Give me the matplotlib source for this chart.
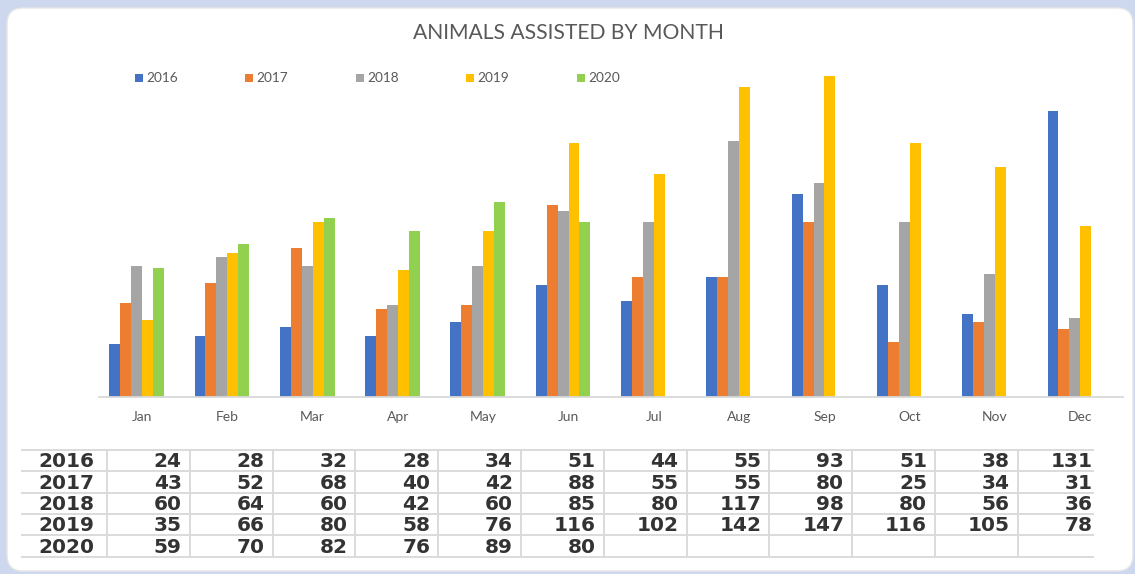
import matplotlib
matplotlib.use("Agg")
import matplotlib.pyplot as plt
from matplotlib.patches import FancyBboxPatch, Rectangle
import numpy as np

# ---- data ----
months = ["Jan", "Feb", "Mar", "Apr", "May", "Jun", "Jul", "Aug", "Sep", "Oct", "Nov", "Dec"]
years = ["2016", "2017", "2018", "2019", "2020"]
v2016 = [24, 28, 32, 28, 34, 51, 44, 55, 93, 51, 38, 131]
v2017 = [43, 52, 68, 40, 42, 88, 55, 55, 80, 25, 34, 31]
v2018 = [60, 64, 60, 42, 60, 85, 80, 117, 98, 80, 56, 36]
v2019 = [35, 66, 80, 58, 76, 116, 102, 142, 147, 116, 105, 78]
v2020 = [59, 70, 82, 76, 89, 80]
series = [v2016, v2017, v2018, v2019, v2020]
colors = ["#4472C4", "#ED7D31", "#A5A5A5", "#FFC000", "#92D050"]

W, H = 1135, 574
fig = plt.figure(figsize=(W / 100, H / 100), dpi=100, facecolor="#CDD8EE")

# background overlay in pixel coordinates
bg = fig.add_axes([0, 0, 1, 1], zorder=0)
bg.set_xlim(0, W)
bg.set_ylim(H, 0)
bg.axis("off")
bg.patch.set_alpha(0)
panel = FancyBboxPatch((7, 8), 1126, 563, boxstyle="round,pad=0,rounding_size=16",
                       facecolor="white", edgecolor="#E6E6E6", linewidth=1.0)
bg.add_patch(panel)

# ---- bar chart ----
cat_px = 85.3
px_per_unit = 2.183
ymax = 160
ax_left, ax_right, base_y = 99.4, 99.4 + 12 * cat_px, 396.7
ax = fig.add_axes([ax_left / W, (H - base_y) / H, (ax_right - ax_left) / W,
                   ymax * px_per_unit / H], zorder=2)
ax.patch.set_alpha(0)
w = 10.93 / cat_px
x = np.arange(len(months))
for j, (vals, c) in enumerate(zip(series, colors)):
    xs = x[:len(vals)] + (j - 2.5) * w
    ax.bar(xs, vals, width=w, color=c, linewidth=0)
ax.set_xlim(-0.5, len(months) - 0.5)
ax.set_ylim(0, ymax)
ax.set_yticks([])
ax.set_xticks(x)
ax.set_xticklabels(months, fontsize=10, color="#595959", family="Lato")
ax.tick_params(axis="x", length=0, pad=10.5)
for s in ["top", "right", "left"]:
    ax.spines[s].set_visible(False)
ax.spines["bottom"].set_color("#D9D9D9")
ax.spines["bottom"].set_linewidth(1.3)

# ---- title ----
fig.text(568 / W, 1 - 33 / H, "ANIMALS ASSISTED BY MONTH", ha="center", va="center",
         fontsize=15.2, color="#595959", family="Lato")

# ---- legend ----
leg_x = [135, 245, 356, 466, 577]
for lx, yr, c in zip(leg_x, years, colors):
    bg.add_patch(Rectangle((lx, 74), 8, 8, facecolor=c, edgecolor="none", zorder=3))
    bg.text(lx + 11, 78.5, yr, ha="left", va="center", fontsize=9.8,
            color="#595959", family="Lato", zorder=3)

# ---- data table ----
row_top, row_h = 450.0, 21.34
col0, col_w = 107.0, 82.8
tbl_left, tbl_right = 22, 1093
line_c = "#DADADA"
for r in range(len(years) + 1):
    yy = row_top + r * row_h
    bg.plot([tbl_left, tbl_right], [yy, yy], color=line_c, lw=1.4, zorder=2)
for c in range(len(months)):
    xx = col0 + c * col_w
    bg.plot([xx, xx], [row_top, row_top + len(years) * row_h], color=line_c, lw=1.4, zorder=2)
for r, (yr, vals) in enumerate(zip(years, series)):
    yc = row_top + (r + 0.5) * row_h + 1
    bg.text(38, yc, yr, ha="left", va="center", fontsize=14.5, fontweight="bold",
            color="#333333", family="DejaVu Sans", zorder=3)
    for c, v in enumerate(vals):
        xr = min(col0 + (c + 1) * col_w - 8, tbl_right)
        bg.text(xr, yc, str(v), ha="right", va="center", fontsize=14.5, fontweight="bold",
                color="#333333", family="DejaVu Sans", zorder=3)

fig.savefig("out.png", dpi=100, facecolor=fig.get_facecolor())
